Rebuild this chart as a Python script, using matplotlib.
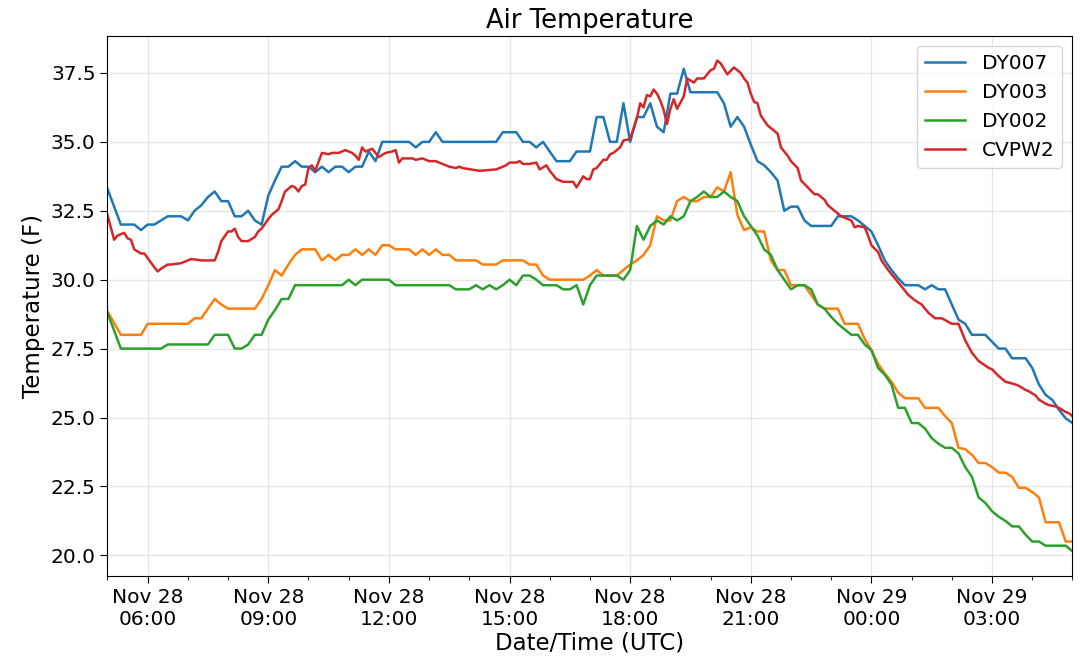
import matplotlib
matplotlib.use("Agg")
import matplotlib.pyplot as plt
import matplotlib.dates as mdates
import pandas as pd

start = pd.Timestamp("2019-11-28 05:00")

# minutes after 05:00 UTC, temperature (F)
dy007_min = [0, 20, 40, 50, 60, 70, 90, 110, 120, 130, 140, 150, 160, 170, 180, 190, 200, 210, 220, 230,
             240, 250, 260, 270, 280, 290, 300, 310, 320, 330, 340, 350, 360, 370, 380, 390, 400, 410, 450, 460,
             470, 480, 490, 500, 580, 590, 610, 620, 630, 640, 650, 660, 670, 690, 700, 720, 730, 740, 750, 760,
             770, 780, 790, 800, 810, 820, 830, 840, 850, 860, 870, 910, 920, 930, 940, 950, 960, 970, 980, 990,
             1000, 1010, 1020, 1030, 1040, 1050, 1080, 1090, 1110, 1120, 1130, 1140, 1150, 1160, 1170, 1180,
             1190, 1210, 1220, 1230, 1240, 1250, 1260, 1270, 1280, 1290, 1310, 1320, 1330, 1340, 1350, 1370,
             1380, 1390, 1400, 1410, 1420, 1430, 1440]
dy007_temp = [33.3, 32.0, 32.0, 31.8, 32.0, 32.0, 32.3, 32.3, 32.15, 32.5, 32.7, 33.0, 33.2, 32.85, 32.85, 32.3,
              32.3, 32.5, 32.15, 32.0, 33.05, 33.6, 34.1, 34.1, 34.3, 34.1, 34.1, 33.9, 34.1, 33.9, 34.1, 34.1,
              33.9, 34.1, 34.1, 34.65, 34.3, 35.0, 35.0, 34.8, 35.0, 35.0, 35.35, 35.0, 35.0, 35.35, 35.35, 35.0,
              35.0, 34.8, 35.0, 34.65, 34.3, 34.3, 34.65, 34.65, 35.9, 35.9, 35.0, 35.0, 36.4, 35.0, 35.9, 35.9,
              36.4, 35.55, 35.35, 36.75, 36.75, 37.65, 36.8, 36.8, 36.4, 35.55, 35.9, 35.55, 34.9, 34.3, 34.15,
              33.9, 33.6, 32.5, 32.65, 32.65, 32.15, 31.95, 31.95, 32.3, 32.3, 32.15, 31.95, 31.75, 31.25, 30.7,
              30.35, 30.05, 29.8, 29.8, 29.65, 29.8, 29.65, 29.65, 29.1, 28.55, 28.4, 28.0, 28.0, 27.75, 27.5,
              27.5, 27.15, 27.15, 26.8, 26.2, 25.82, 25.64, 25.28, 24.97, 24.8]

dy003_min = [0, 20, 50, 60, 120, 130, 140, 150, 160, 170, 180, 220, 230, 240, 250, 260, 270, 280, 290, 310,
             320, 330, 340, 350, 360, 370, 380, 390, 400, 410, 420, 430, 450, 460, 470, 480, 490, 500, 510, 520,
             550, 560, 580, 590, 620, 630, 640, 650, 660, 710, 720, 730, 740, 760, 770, 780, 790, 800, 810, 820,
             830, 840, 850, 860, 870, 880, 890, 900, 910, 920, 930, 940, 950, 960, 970, 980, 990, 1000, 1010,
             1020, 1040, 1050, 1060, 1070, 1090, 1100, 1120, 1130, 1140, 1150, 1160, 1170, 1180, 1190, 1210,
             1220, 1240, 1250, 1260, 1270, 1280, 1290, 1300, 1310, 1320, 1330, 1340, 1350, 1360, 1370, 1380,
             1390, 1400, 1420, 1430, 1440]
dy003_temp = [28.85, 28.0, 28.0, 28.4, 28.4, 28.6, 28.6, 28.95, 29.3, 29.1, 28.95, 28.95, 29.3, 29.8, 30.35,
              30.15, 30.55, 30.9, 31.1, 31.1, 30.7, 30.9, 30.7, 30.9, 30.9, 31.1, 30.9, 31.1, 30.9, 31.25, 31.25,
              31.1, 31.1, 30.9, 31.1, 30.9, 31.1, 30.9, 30.9, 30.7, 30.7, 30.55, 30.55, 30.7, 30.7, 30.55, 30.55,
              30.15, 30.0, 30.0, 30.15, 30.35, 30.15, 30.15, 30.35, 30.55, 30.7, 30.9, 31.25, 32.3, 32.15, 32.15,
              32.85, 33.0, 32.85, 32.85, 33.0, 33.0, 33.35, 33.2, 33.9, 32.35, 31.8, 31.9, 31.75, 31.75, 30.7,
              30.35, 30.35, 29.8, 29.8, 29.45, 29.1, 28.95, 28.95, 28.4, 28.4, 27.85, 27.45, 26.95, 26.6, 26.3,
              25.9, 25.7, 25.7, 25.35, 25.35, 25.05, 24.8, 23.9, 23.85, 23.65, 23.35, 23.35, 23.2, 23.0, 23.0,
              22.85, 22.45, 22.45, 22.3, 22.1, 21.2, 21.2, 20.5, 20.5]

dy002_min = [0, 20, 80, 90, 150, 160, 180, 190, 200, 210, 220, 230, 240, 250, 260, 270, 280, 350, 360, 370,
             380, 420, 430, 510, 520, 540, 550, 560, 570, 580, 590, 600, 610, 620, 630, 640, 650, 670, 680, 690,
             700, 710, 720, 730, 760, 770, 780, 790, 800, 810, 820, 830, 840, 850, 860, 870, 880, 890, 900, 910,
             920, 930, 940, 950, 960, 970, 980, 990, 1000, 1010, 1020, 1030, 1040, 1050, 1060, 1070, 1080, 1090,
             1100, 1110, 1120, 1130, 1140, 1150, 1160, 1170, 1180, 1190, 1200, 1210, 1220, 1230, 1240, 1250,
             1260, 1270, 1280, 1290, 1300, 1310, 1320, 1330, 1340, 1350, 1360, 1370, 1380, 1390, 1400, 1430,
             1440]
dy002_temp = [28.8, 27.5, 27.5, 27.65, 27.65, 28.0, 28.0, 27.5, 27.5, 27.65, 28.0, 28.0, 28.55, 28.9, 29.3,
              29.3, 29.8, 29.8, 30.0, 29.8, 30.0, 30.0, 29.8, 29.8, 29.65, 29.65, 29.8, 29.65, 29.8, 29.65, 29.8,
              30.0, 29.8, 30.15, 30.15, 30.0, 29.8, 29.8, 29.65, 29.65, 29.8, 29.1, 29.8, 30.15, 30.15, 30.0,
              30.35, 31.95, 31.45, 31.95, 32.15, 32.0, 32.3, 32.15, 32.3, 32.85, 33.0, 33.2, 33.0, 33.0, 33.2,
              33.0, 32.85, 32.3, 31.95, 31.6, 31.1, 30.9, 30.35, 30.0, 29.65, 29.8, 29.8, 29.65, 29.1, 28.95,
              28.65, 28.4, 28.2, 28.0, 28.0, 27.65, 27.45, 26.8, 26.55, 26.2, 25.35, 25.35, 24.8, 24.8, 24.6,
              24.25, 24.05, 23.9, 23.9, 23.7, 23.2, 22.85, 22.1, 21.9, 21.6, 21.4, 21.25, 21.05, 21.05, 20.75,
              20.5, 20.5, 20.35, 20.35, 20.15]

cvpw2_min = [0, 10, 15, 25, 30, 35, 40, 50, 55, 70, 75, 80, 90, 95, 110, 125, 140, 160, 165, 170, 180, 185,
             190, 195, 200, 210, 220, 225, 230, 240, 245, 255, 260, 265, 275, 280, 285, 290, 295, 300, 305, 310,
             320, 330, 335, 345, 355, 365, 370, 375, 380, 385, 395, 405, 415, 425, 430, 435, 440, 455, 460, 470,
             480, 490, 500, 510, 520, 525, 530, 555, 580, 595, 600, 610, 615, 620, 630, 640, 645, 655, 660, 670,
             680, 695, 700, 705, 710, 715, 720, 725, 730, 740, 745, 750, 755, 765, 770, 780, 790, 795, 800, 805,
             810, 815, 820, 825, 830, 835, 840, 845, 850, 860, 865, 875, 880, 890, 900, 905, 910, 915, 925, 935,
             945, 950, 955, 960, 965, 970, 975, 985, 990, 1000, 1005, 1015, 1020, 1030, 1035, 1045, 1055, 1060,
             1070, 1075, 1085, 1090, 1095, 1105, 1110, 1115, 1120, 1130, 1135, 1140, 1150, 1155, 1165, 1175,
             1185, 1195, 1205, 1215, 1225, 1235, 1245, 1260, 1270, 1280, 1290, 1300, 1315, 1320, 1330, 1340,
             1355, 1360, 1370, 1375, 1385, 1390, 1400, 1405, 1415, 1420, 1430, 1435, 1440]
cvpw2_temp = [32.35, 31.45, 31.6, 31.7, 31.5, 31.45, 31.1, 30.95, 30.95, 30.45, 30.3, 30.4, 30.55, 30.55, 30.6,
              30.75, 30.7, 30.7, 31.0, 31.4, 31.75, 31.75, 31.85, 31.55, 31.4, 31.4, 31.55, 31.75, 31.85, 32.2,
              32.35, 32.55, 32.85, 33.2, 33.4, 33.35, 33.2, 33.4, 33.45, 34.05, 34.15, 33.95, 34.6, 34.55, 34.6,
              34.6, 34.7, 34.6, 34.5, 34.35, 34.8, 34.65, 34.75, 34.45, 34.6, 34.65, 34.7, 34.25, 34.4, 34.4,
              34.35, 34.4, 34.3, 34.3, 34.2, 34.1, 34.05, 34.1, 34.05, 33.95, 34.0, 34.15, 34.25, 34.25, 34.3,
              34.2, 34.2, 34.25, 34.0, 34.15, 33.95, 33.65, 33.55, 33.55, 33.35, 33.55, 33.75, 33.65, 33.65, 34.0,
              34.05, 34.35, 34.35, 34.55, 34.6, 34.8, 35.05, 35.1, 35.85, 36.4, 36.25, 36.7, 36.65, 36.9, 36.75,
              36.5, 36.15, 35.65, 36.2, 36.55, 36.2, 36.65, 37.3, 37.15, 37.3, 37.3, 37.6, 37.65, 37.95, 37.85,
              37.45, 37.7, 37.5, 37.3, 37.15, 36.75, 36.45, 36.4, 35.95, 35.6, 35.5, 35.3, 34.8, 34.5, 34.3,
              34.05, 33.6, 33.35, 33.1, 33.1, 32.9, 32.7, 32.5, 32.4, 32.3, 32.2, 32.15, 31.9, 31.95, 31.9, 31.6,
              31.25, 31.0, 30.7, 30.35, 30.05, 29.75, 29.45, 29.25, 29.1, 28.8, 28.6, 28.6, 28.4, 28.4, 27.8,
              27.35, 27.05, 26.8, 26.75, 26.5, 26.3, 26.2, 26.15, 26.0, 25.95, 25.8, 25.65, 25.5, 25.45, 25.4,
              25.35, 25.2, 25.15, 25.05]


def to_time(mins):
    return start + pd.to_timedelta(mins, unit="m")


fig = plt.figure(figsize=(10.8, 6.61), dpi=100)
ax = fig.add_axes([0.0995, 0.129, 0.8935, 0.8165])

ax.plot(to_time(dy007_min), dy007_temp, label="DY007", color="#1f77b4", linewidth=1.8)
ax.plot(to_time(dy003_min), dy003_temp, label="DY003", color="#ff7f0e", linewidth=1.8)
ax.plot(to_time(dy002_min), dy002_temp, label="DY002", color="#2ca02c", linewidth=1.8)
ax.plot(to_time(cvpw2_min), cvpw2_temp, label="CVPW2", color="#d62728", linewidth=1.8)

ax.set_xlim(to_time(0), to_time(1440))
ax.xaxis.set_major_locator(mdates.HourLocator(byhour=range(0, 24, 3)))
ax.xaxis.set_minor_locator(mdates.HourLocator())
ax.xaxis.set_major_formatter(mdates.DateFormatter("%b %d\n%H:%M"))
ax.tick_params(axis="both", which="major", labelsize=14.5, length=5)
ax.tick_params(axis="x", which="minor", length=3)

ax.grid(True, which="major", color="#e6e6e6", linewidth=1)
ax.set_axisbelow(True)

ax.set_title("Air Temperature", fontsize=18.5)
ax.set_xlabel("Date/Time (UTC)", fontsize=16.5, labelpad=2)
ax.set_ylabel("Temperature (F)", fontsize=16.5)
ax.legend(loc="upper right", fontsize=14.5)

fig.savefig("out.png", dpi=100)
